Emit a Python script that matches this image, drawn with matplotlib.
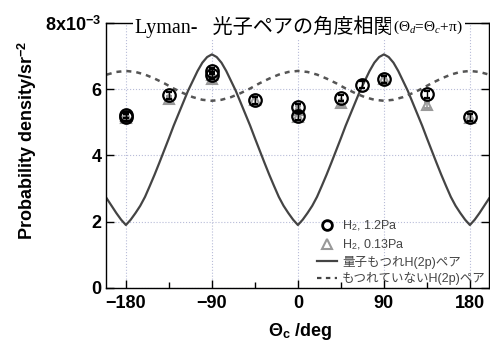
import matplotlib.pyplot as plt
from matplotlib.lines import Line2D

plt.rcParams["font.family"] = ["Liberation Sans", "Noto Sans CJK JP"]
plt.rcParams["mathtext.fontset"] = "custom"
plt.rcParams["mathtext.rm"] = "Liberation Sans"
plt.rcParams["mathtext.bf"] = "Liberation Sans:bold"
plt.rcParams["mathtext.it"] = "Liberation Serif:italic"

# theory curves, angle in deg, density in 1e-3 /sr^2
theory_x = list(range(-200, 201, 5))
entangled = [
    2.70, 2.48, 2.26, 2.06, 1.90, 2.06, 2.26, 2.48, 2.75, 3.08, 3.42, 3.78, 4.15,
    4.52, 4.90, 5.25, 5.60, 5.95, 6.25, 6.55, 6.80, 6.97, 7.05, 6.97, 6.80, 6.55,
    6.25, 5.95, 5.60, 5.25, 4.90, 4.52, 4.15, 3.78, 3.42, 3.08, 2.75, 2.48, 2.26,
    2.06, 1.90, 2.06, 2.26, 2.48, 2.75, 3.08, 3.42, 3.78, 4.15, 4.52, 4.90, 5.25,
    5.60, 5.95, 6.25, 6.55, 6.80, 6.97, 7.05, 6.97, 6.80, 6.55, 6.25, 5.95, 5.60,
    5.25, 4.90, 4.52, 4.15, 3.78, 3.42, 3.08, 2.75, 2.48, 2.26, 2.06, 1.90, 2.06,
    2.26, 2.48, 2.70,
]
dashed_x = list(range(-200, 201, 10))
not_entangled = [
    6.44, 6.52, 6.55, 6.52, 6.44, 6.32, 6.18, 6.02, 5.88, 5.76, 5.68, 5.65, 5.68,
    5.76, 5.88, 6.02, 6.18, 6.32, 6.44, 6.52, 6.55, 6.52, 6.44, 6.32, 6.18, 6.02,
    5.88, 5.76, 5.68, 5.65, 5.68, 5.76, 5.88, 6.02, 6.18, 6.32, 6.44, 6.52, 6.55,
    6.52, 6.44,
]

# measured points
hi_x = [-180, -180, -135, -90, -90, -45, 0, 0, 45, 67.5, 90, 135, 180]
hi_y = [5.22, 5.15, 5.81, 6.55, 6.42, 5.66, 5.45, 5.18, 5.73, 6.14, 6.30, 5.84, 5.15]
hi_err = [0.1] * len(hi_x)
lo_x = [-180, -180, -135, -90, -90, -45, 0, 0, 45, 90, 135, 180]
lo_y = [5.18, 5.12, 5.70, 6.42, 6.32, 5.66, 5.38, 5.15, 5.58, 6.32, 5.52, 5.14]
lo_err = [0.1] * len(lo_x)

xticks = [-180, -90, 0, 90, 180]
yticks = [0, 2, 4, 6, 8]
ytick_labels = ["0", "2", "4", "6", r"8x10$^{\mathbf{-3}}$"]

fig = plt.figure(figsize=(4.9, 3.42), dpi=100)
ax = fig.add_axes([0.216, 0.158, 0.782, 0.775])

ax.plot(theory_x, entangled, color="#444444", lw=1.6, zorder=2)
ax.plot(dashed_x, not_entangled, color="#555555", lw=1.8, dashes=(2, 2), zorder=2)

ax.errorbar(lo_x, lo_y, yerr=lo_err, fmt="^", ms=7, mfc="none", mec="#999999",
            mew=1.5, ecolor="#999999", elinewidth=1.2, capsize=2.5, zorder=3)
ax.errorbar(hi_x, hi_y, yerr=hi_err, fmt="o", ms=9, mfc="none", mec="black",
            mew=1.6, ecolor="black", elinewidth=1.0, capsize=2.5, zorder=4)

ax.set_xlim(-201, 200)
ax.set_ylim(0, 8)
ax.set_xticks(xticks)
ax.set_xticks([-135, -45, 45, 135], minor=True)
ax.set_yticks(yticks)
ax.set_yticklabels(ytick_labels)
ax.tick_params(which="both", direction="in", right=True, top=False)
ax.tick_params(which="major", length=6, width=1, labelsize=13, pad=5)
ax.tick_params(which="minor", length=4, width=1)
ax.tick_params(axis="y", pad=3)
for lab in ax.get_xticklabels() + ax.get_yticklabels():
    lab.set_fontweight("bold")
ax.grid(True, which="major", color="#b8bcd8", linestyle=":", lw=0.8)
for s in ax.spines.values():
    s.set_linewidth(1)

# title in two pieces: mathtext cannot fall back to the CJK font
title_box = dict(facecolor="white", edgecolor="none", pad=1.5)
ax.text(0.75, 0.985, "Lyman-   光子ペアの角度相関", transform=ax.transAxes,
        ha="right", va="center", fontsize=14.5,
        family=["Liberation Serif", "Noto Sans CJK JP"], bbox=title_box, zorder=10)
ax.text(0.749, 0.985, "(Θ$_{d}$=Θ$_{c}$+π)", transform=ax.transAxes,
        ha="left", va="center", fontsize=11, family="Liberation Serif",
        bbox=title_box, zorder=10)

fig.text(27 / 490, 1 - 140 / 342, r"Probability density/sr$^{\mathbf{-2}}$",
         rotation=90, ha="center", va="center", fontsize=13, fontweight="bold")
fig.text(300 / 490, 1 - 331 / 342, r"$\mathbf{\Theta}_{\mathbf{c}}$ /deg",
         ha="center", va="center", fontsize=13, fontweight="bold")

handles = [
    Line2D([], [], ls="none", marker="o", ms=7, mfc="none", mec="black", mew=2),
    Line2D([], [], ls="none", marker="^", ms=7, mfc="none", mec="#999999", mew=1.5),
    Line2D([], [], color="#444444", lw=1.6),
    Line2D([], [], color="#444444", lw=1.6, dashes=(2, 2)),
]
labels = ["H$_2$, 1.2Pa", "H$_2$, 0.13Pa", "量子もつれH(2p)ペア", "もつれていないH(2p)ペア"]
leg = ax.legend(handles, labels, loc="lower left", bbox_to_anchor=(0.545, 0.0),
                frameon=False, fontsize=9, handlelength=1.6, handletextpad=0.4,
                labelspacing=0.3, borderpad=0.2, borderaxespad=0)
for t in leg.get_texts():
    t.set_color("#444444")

fig.savefig("out.png", dpi=100)
